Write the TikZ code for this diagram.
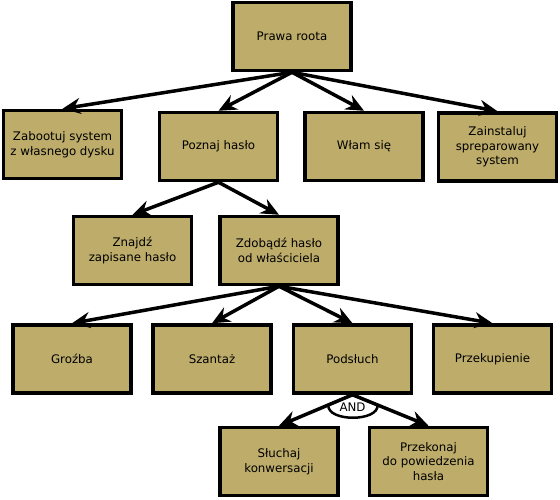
\documentclass[tikz,border=0pt]{standalone}
\usepackage{fontspec}
\setmainfont{DejaVu Sans}
\usetikzlibrary{arrows.meta,calc}
\definecolor{khaki}{RGB}{189,172,106}
\begin{document}
\begin{tikzpicture}[x=1pt,y=-1pt,line cap=butt,line join=miter,>={Stealth[length=18pt,width=16pt,inset=6pt]},font=\fontsize{11.8}{14.6}\selectfont]
	\tikzset{blok/.style={draw,fill=khaki,line width=3.5pt,minimum width=118pt,minimum height=68pt,align=center,inner sep=2pt},
		strz/.style={->,line width=3.5pt}}
	\useasboundingbox (0,0) rectangle (560,499);
	\node[blok] (root) at (292,36.5) {Prawa roota};
	%--------- poziom 1
	\node[blok] (zab) at (62.5,144.5) {Zabootuj system\\z własnego dysku};
	\node[blok] (poz) at (218.5,146.5) {Poznaj hasło};
	\node[blok] (wlam) at (364,146.5) {Włam się};
	\node[blok] (zain) at (497.5,147) {Zainstaluj\\spreparowany\\system};
	%--------- poziom 2
	\node[blok] (znaj) at (132.5,250.5) {Znajdź\\zapisane hasło};
	\node[blok] (zdob) at (279,250.5) {Zdobądź hasło\\od właściciela};
	%--------- poziom 3
	\node[blok] (groz) at (72,359) {Groźba};
	\node[blok] (szan) at (212,359) {Szantaż};
	\node[blok] (pods) at (352.5,359) {Podsłuch};
	\node[blok] (przk) at (492.5,359) {Przekupienie};
	%--------- poziom 4
	\node[blok] (sluch) at (279,461.5) {Słuchaj\\konwersacji};
	\node[blok] (przn) at (428.5,461.5) {Przekonaj\\do powiedzenia\\hasła};
	% AND
	\coordinate (a1) at ($(pods.south)!0.33!(sluch.north)$);
	\coordinate (a2) at ($(pods.south)!0.33!(przn.north)$);
	\filldraw[fill=white,line width=2.5pt] (a1) -- (pods.south) -- (a2) .. controls +(1,17) and +(-1,17) .. (a1) -- cycle;
	\node (and) at (352.5,407.5) {AND};
	%--------- strzałki
	\foreach \a/\b in {root/zab,root/poz,root/wlam,root/zain,poz/znaj,poz/zdob,zdob/groz,zdob/szan,zdob/pods,zdob/przk,pods/sluch,pods/przn}
		\draw[strz] (\a.south) -- (\b.north);
\end{tikzpicture}
\end{document}
